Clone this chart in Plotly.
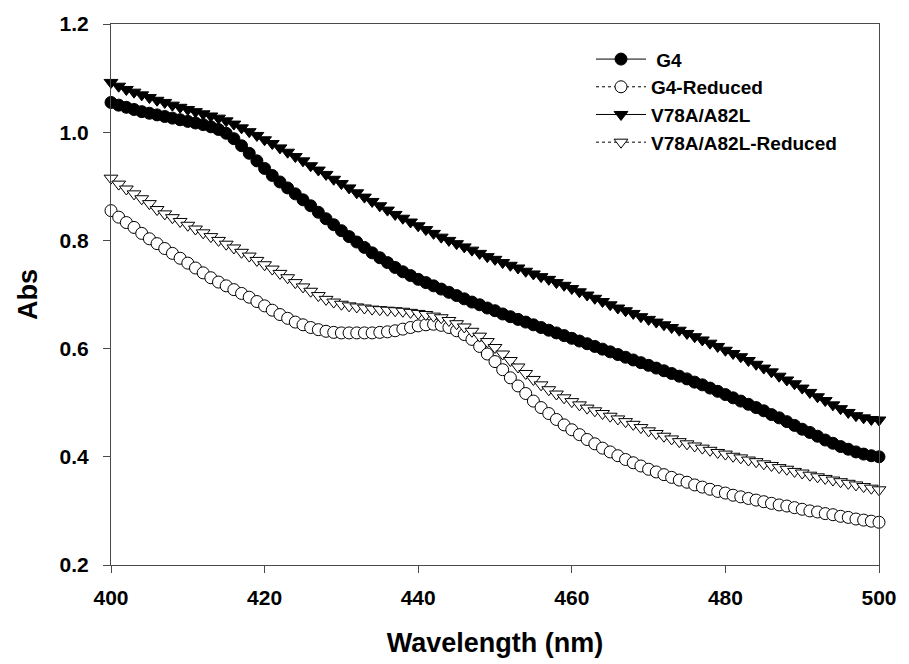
import plotly.graph_objects as go

# Absorbance spectra, 400-500 nm in 1 nm steps
wavelength = list(range(400, 501))

g4 = [
    1.055, 1.050, 1.046, 1.042, 1.038, 1.035, 1.032, 1.029, 1.026, 1.023,
    1.020, 1.017, 1.014, 1.010, 1.005, 0.998, 0.988, 0.975, 0.961, 0.947,
    0.933, 0.920, 0.908, 0.897, 0.886, 0.875, 0.864, 0.852, 0.840, 0.829,
    0.818, 0.807, 0.797, 0.787, 0.777, 0.768, 0.759, 0.750, 0.742, 0.735,
    0.728, 0.722, 0.716, 0.710, 0.704, 0.698, 0.692, 0.686, 0.681, 0.675,
    0.670, 0.664, 0.659, 0.654, 0.649, 0.644, 0.639, 0.634, 0.629, 0.624,
    0.619, 0.614, 0.609, 0.604, 0.599, 0.594, 0.589, 0.584, 0.579, 0.574,
    0.569, 0.564, 0.559, 0.554, 0.549, 0.544, 0.538, 0.533, 0.527, 0.521,
    0.515, 0.509, 0.503, 0.497, 0.491, 0.485, 0.478, 0.472, 0.465, 0.458,
    0.451, 0.445, 0.438, 0.431, 0.425, 0.419, 0.414, 0.409, 0.405, 0.402,
    0.400,
]

g4_reduced = [
    0.855, 0.843, 0.833, 0.824, 0.813, 0.803, 0.794, 0.785, 0.776, 0.767,
    0.758, 0.749, 0.740, 0.731, 0.723, 0.716, 0.709, 0.702, 0.695, 0.687,
    0.679, 0.671, 0.663, 0.656, 0.649, 0.644, 0.639, 0.635, 0.632, 0.630,
    0.629, 0.629, 0.629, 0.629, 0.629, 0.630, 0.631, 0.633, 0.636, 0.639,
    0.642, 0.644, 0.645, 0.643, 0.639, 0.633, 0.626, 0.617, 0.604, 0.590,
    0.576, 0.561, 0.546, 0.531, 0.517, 0.503, 0.491, 0.480, 0.469, 0.459,
    0.450, 0.441, 0.432, 0.424, 0.416, 0.409, 0.402, 0.395, 0.389, 0.383,
    0.377, 0.372, 0.367, 0.362, 0.357, 0.353, 0.348, 0.344, 0.340, 0.336,
    0.333, 0.329, 0.326, 0.323, 0.320, 0.317, 0.314, 0.311, 0.309, 0.306,
    0.303, 0.300, 0.298, 0.295, 0.293, 0.290, 0.288, 0.285, 0.283, 0.281,
    0.279,
]

v78a_a82l = [
    1.092, 1.085, 1.079, 1.074, 1.069, 1.064, 1.059, 1.055, 1.050, 1.046,
    1.042, 1.038, 1.034, 1.030, 1.026, 1.021, 1.015, 1.008, 1.001, 0.994,
    0.986, 0.979, 0.971, 0.963, 0.955, 0.947, 0.938, 0.930, 0.922, 0.913,
    0.905, 0.897, 0.888, 0.880, 0.872, 0.864, 0.856, 0.848, 0.841, 0.834,
    0.827, 0.820, 0.813, 0.806, 0.800, 0.794, 0.788, 0.782, 0.776, 0.770,
    0.765, 0.759, 0.754, 0.749, 0.743, 0.738, 0.733, 0.728, 0.722, 0.717,
    0.711, 0.705, 0.699, 0.693, 0.687, 0.681, 0.675, 0.670, 0.665, 0.659,
    0.654, 0.649, 0.644, 0.639, 0.634, 0.628, 0.622, 0.616, 0.610, 0.604,
    0.597, 0.591, 0.585, 0.578, 0.571, 0.564, 0.557, 0.549, 0.542, 0.535,
    0.527, 0.519, 0.511, 0.504, 0.496, 0.489, 0.482, 0.476, 0.472, 0.469,
    0.468,
]

v78a_a82l_reduced = [
    0.915, 0.904, 0.895, 0.886, 0.877, 0.868, 0.857, 0.849, 0.842, 0.835,
    0.828, 0.821, 0.814, 0.807, 0.800, 0.793, 0.786, 0.778, 0.771, 0.763,
    0.755, 0.747, 0.739, 0.731, 0.722, 0.714, 0.706, 0.698, 0.691, 0.686,
    0.682, 0.679, 0.677, 0.675, 0.673, 0.672, 0.671, 0.670, 0.669, 0.667,
    0.665, 0.663, 0.660, 0.657, 0.652, 0.646, 0.640, 0.632, 0.623, 0.613,
    0.602, 0.590, 0.578, 0.566, 0.554, 0.543, 0.533, 0.524, 0.516, 0.509,
    0.502, 0.496, 0.490, 0.485, 0.480, 0.475, 0.470, 0.465, 0.460, 0.454,
    0.448, 0.443, 0.438, 0.433, 0.428, 0.424, 0.420, 0.416, 0.412, 0.408,
    0.405, 0.401, 0.398, 0.394, 0.391, 0.387, 0.384, 0.380, 0.377, 0.373,
    0.370, 0.366, 0.363, 0.360, 0.357, 0.354, 0.351, 0.348, 0.345, 0.342,
    0.339,
]

x_ticks = [400, 420, 440, 460, 480, 500]
y_ticks = [0.2, 0.4, 0.6, 0.8, 1.0, 1.2]

FONT = "Liberation Sans, Arial, sans-serif"
AXIS_COLOR = "#4a4a4a"

series = [
    ("\u00a0G4", g4, "circle", "black", "solid"),
    ("G4-Reduced", g4_reduced, "circle", "white", "dot"),
    ("V78A/A82L", v78a_a82l, "triangle-down", "black", "solid"),
    ("V78A/A82L-Reduced", v78a_a82l_reduced, "triangle-down", "white", "dot"),
]

fig = go.Figure()
for name, values, symbol, fill, dash in series:
    fig.add_trace(go.Scatter(
        x=wavelength,
        y=values,
        name=name,
        mode="lines+markers",
        line=dict(color="black", width=1, dash=dash),
        marker=dict(symbol=symbol, size=12, color=fill,
                    line=dict(color="black", width=1)),
        cliponaxis=False,
    ))

axis_common = dict(
    showline=True,
    linecolor=AXIS_COLOR,
    linewidth=1,
    mirror=True,
    showgrid=False,
    zeroline=False,
    ticks="outside",
    ticklen=7,
    tickcolor=AXIS_COLOR,
    tickwidth=1,
    tickfont=dict(family=FONT, size=21, color="black", weight="bold"),
)

fig.update_xaxes(
    range=[400, 500],
    tickvals=x_ticks,
    ticktext=[str(v) for v in x_ticks],
    ticklabelstandoff=7,
    title=dict(text="Wavelength (nm)", standoff=24,
               font=dict(family=FONT, size=27, color="black", weight="bold")),
    **axis_common,
)
fig.update_yaxes(
    range=[0.2, 1.2],
    tickvals=y_ticks,
    ticktext=[f"{v:.1f}" for v in y_ticks],
    ticklabelstandoff=10,
    title=dict(text="Abs", standoff=14,
               font=dict(family=FONT, size=27, color="black", weight="bold")),
    **axis_common,
)

fig.update_layout(
    width=909,
    height=664,
    margin=dict(l=111, r=23, t=23, b=98),
    paper_bgcolor="white",
    plot_bgcolor="white",
    showlegend=True,
    legend=dict(
        x=0.625, y=0.970, xanchor="left", yanchor="top",
        bgcolor="rgba(0,0,0,0)",
        font=dict(family=FONT, size=19, color="black", weight="bold"),
        itemwidth=50,
        tracegroupgap=0,
    ),
)

fig.write_html("out.html")
